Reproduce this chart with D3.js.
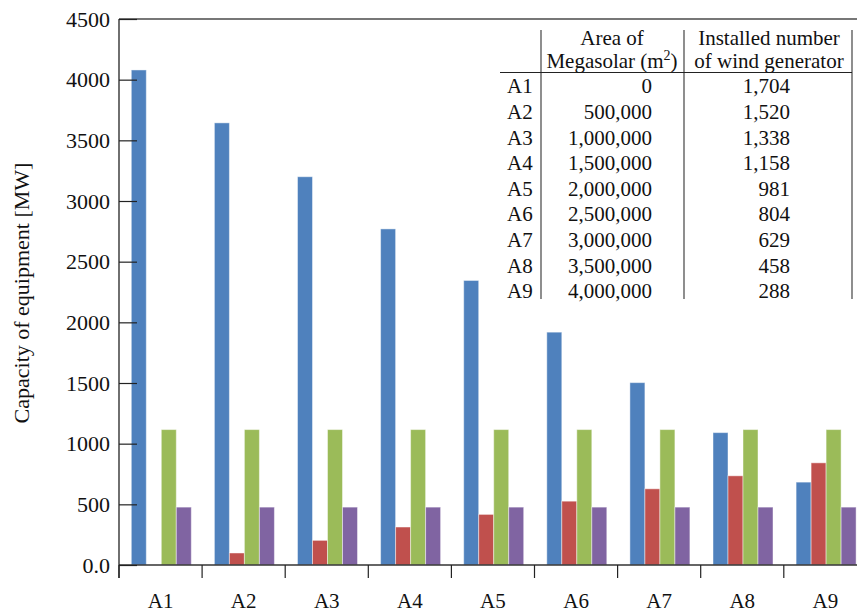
<!DOCTYPE html>
<html>
<head>
<meta charset="utf-8">
<script src="https://cdn.jsdelivr.net/npm/d3@7"></script>
<style>
  html, body { margin: 0; padding: 0; background: #fff; }
  svg { display: block; font-family: "Liberation Serif", "Times New Roman", serif; }
</style>
</head>
<body>
<svg id="chart" width="857" height="615"></svg>
<script>
// Cases A1..A9
const categories = ["A1", "A2", "A3", "A4", "A5", "A6", "A7", "A8", "A9"];

// Capacity of each kind of equipment per case [MW]
const seriesKeys = ["s1", "s2", "s3", "s4"];
const series1 = [4080, 3644, 3200, 2770, 2345, 1919, 1503, 1091, 683];
const series2 = [0, 99, 203, 313, 417, 526, 628, 735, 842];
const series3 = [1116, 1116, 1116, 1116, 1116, 1116, 1116, 1116, 1116];
const series4 = [477, 477, 477, 477, 477, 477, 477, 477, 477];
const seriesColors = ["#4F81BD", "#C0504D", "#9BBB59", "#8064A2"];

// Y-axis ticks
const yTickValues = [0, 500, 1000, 1500, 2000, 2500, 3000, 3500, 4000, 4500];
const yTickLabels = ["0.0", "500", "1000", "1500", "2000", "2500", "3000", "3500", "4000", "4500"];

// Inset table
const megasolarArea = ["0", "500,000", "1,000,000", "1,500,000", "2,000,000", "2,500,000", "3,000,000", "3,500,000", "4,000,000"];
const windGenerators = ["1,704", "1,520", "1,338", "1,158", "981", "804", "629", "458", "288"];

const allSeries = [series1, series2, series3, series4];

const svg = d3.select("#chart");
const W = 857;
const plotLeft = 119, plotTop = 19, plotBottom = 565;
const bandStep = 83.1;

const y = d3.scaleLinear().domain([0, 4500]).range([plotBottom, plotTop]);
const x0 = d3.scaleBand().domain(categories)
  .range([plotLeft, plotLeft + bandStep * categories.length]).paddingInner(0).paddingOuter(0);
const x1 = d3.scaleBand().domain(seriesKeys).range([12.3, 72.3]).padding(0);

// Bars
const groups = svg.append("g").selectAll("g")
  .data(categories)
  .join("g")
  .attr("transform", d => `translate(${x0(d)},0)`);

groups.selectAll("rect")
  .data((c, i) => seriesKeys.map((k, j) => ({ key: k, value: allSeries[j][i], color: seriesColors[j] })).filter(d => d.value > 0))
  .join("rect")
  .attr("x", d => x1(d.key))
  .attr("y", d => y(d.value))
  .attr("width", x1.bandwidth())
  .attr("height", d => plotBottom - y(d.value))
  .attr("fill", d => d.color)
  .attr("stroke", "rgba(255,255,255,0.45)")
  .attr("stroke-width", 1);

// Frame top line
svg.append("line")
  .attr("x1", plotLeft).attr("x2", W)
  .attr("y1", plotTop).attr("y2", plotTop)
  .attr("stroke", "#4a4a4a").attr("stroke-width", 1.5);

// Baseline
svg.append("line")
  .attr("x1", plotLeft).attr("x2", W)
  .attr("y1", plotBottom).attr("y2", plotBottom)
  .attr("stroke", "#333").attr("stroke-width", 1.5);

// Y axis with inward ticks
const yAxis = d3.axisLeft(y)
  .tickValues(yTickValues)
  .tickFormat((d, i) => yTickLabels[i])
  .tickSizeInner(-18)
  .tickSizeOuter(0)
  .tickPadding(9);

const yg = svg.append("g")
  .attr("transform", `translate(${plotLeft},0)`)
  .call(yAxis);
yg.select(".domain").remove();
yg.selectAll(".tick line").attr("stroke", "#222").attr("stroke-width", 1.2);
yg.selectAll(".tick text")
  .attr("font-family", "Liberation Serif, serif")
  .attr("font-size", 22)
  .attr("fill", "#111");

// Y axis line (extends slightly below zero)
svg.append("line")
  .attr("x1", plotLeft).attr("x2", plotLeft)
  .attr("y1", plotTop).attr("y2", 578)
  .attr("stroke", "#222").attr("stroke-width", 1.3);

// X axis: tick marks at category boundaries, labels under band centres
const boundaries = categories.map(c => x0(c)).concat([x0.range()[1]]);
svg.append("g").selectAll("line")
  .data(boundaries)
  .join("line")
  .attr("x1", d => d).attr("x2", d => d)
  .attr("y1", plotBottom).attr("y2", 578)
  .attr("stroke", "#222").attr("stroke-width", 1.2);

const xAxis = d3.axisBottom(x0).tickSize(0).tickPadding(0);
const xg = svg.append("g").attr("transform", `translate(0,${plotBottom})`).call(xAxis);
xg.select(".domain").remove();
xg.selectAll(".tick text")
  .attr("font-family", "Liberation Serif, serif")
  .attr("font-size", 21)
  .attr("fill", "#111")
  .attr("dy", null)
  .attr("y", 43);

// Y axis title
svg.append("text")
  .attr("transform", "translate(29,293) rotate(-90)")
  .attr("text-anchor", "middle")
  .attr("font-size", 22)
  .attr("fill", "#111")
  .text("Capacity of equipment [MW]");

// Inset table
const tbl = svg.append("g").attr("font-size", 21).attr("fill", "#111");
const rowY = d3.scalePoint().domain(categories).range([86, 291]);
const colDivs = [541, 684, 852];

tbl.selectAll("line.v")
  .data(colDivs)
  .join("line")
  .attr("class", "v")
  .attr("x1", d => d).attr("x2", d => d)
  .attr("y1", 30).attr("y2", 299)
  .attr("stroke", "#444").attr("stroke-width", 1.2);

tbl.append("line")
  .attr("x1", 500).attr("x2", 852)
  .attr("y1", 72.5).attr("y2", 72.5)
  .attr("stroke", "#222").attr("stroke-width", 1.2);

// Header
tbl.append("text").attr("x", 612).attr("y", 45).attr("text-anchor", "middle").text("Area of");
const h2 = tbl.append("text").attr("x", 612).attr("y", 68).attr("text-anchor", "middle");
h2.append("tspan").text("Megasolar (m");
h2.append("tspan").attr("font-size", 14).attr("dy", -8).text("2");
h2.append("tspan").attr("dy", 8).text(")");
tbl.append("text").attr("x", 769).attr("y", 45).attr("text-anchor", "middle").text("Installed number");
tbl.append("text").attr("x", 769).attr("y", 68).attr("text-anchor", "middle").text("of wind generator");

// Rows
const rows = tbl.selectAll("g.row")
  .data(categories)
  .join("g")
  .attr("class", "row")
  .attr("transform", d => `translate(0,${rowY(d)})`);

rows.append("text").attr("x", 507).attr("dy", "0.35em").text(d => d);
rows.append("text").attr("x", 652).attr("dy", "0.35em").attr("text-anchor", "end")
  .text((d, i) => megasolarArea[i]);
rows.append("text").attr("x", 790).attr("dy", "0.35em").attr("text-anchor", "end")
  .text((d, i) => windGenerators[i]);
</script>
</body>
</html>
